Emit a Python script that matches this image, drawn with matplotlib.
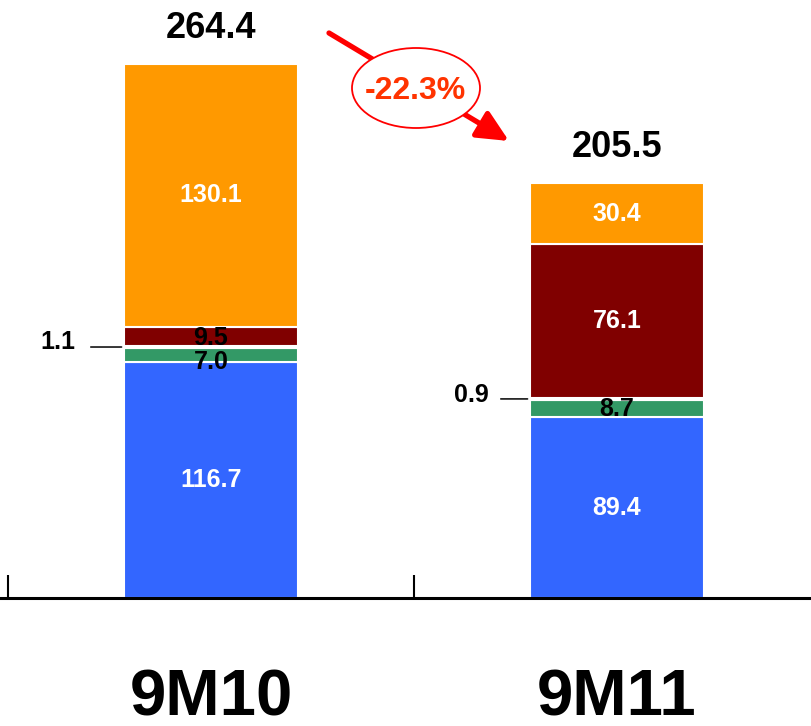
import numpy as np
import matplotlib
matplotlib.use('Agg')
import matplotlib.pyplot as plt
from matplotlib.patches import Ellipse

plt.rcParams['font.family'] = ['Liberation Sans', 'DejaVu Sans']
plt.rcParams['font.weight'] = 'bold'

# Data
periods = ['9M10', '9M11']
blue = [116.7, 89.4]
green = [7.0, 8.7]
small = [1.1, 0.9]
dark_red = [9.5, 76.1]
orange = [130.1, 30.4]
change_label = '-22.3%'

segments = [blue, green, small, dark_red, orange]
colors = ['#3366FF', '#339966', '#FFFFFF', '#800000', '#FF9900']
# label colour per segment and bar (None = labelled separately)
text_colors = [['white', 'white'], ['black', 'black'], None,
               ['black', 'white'], ['white', 'white']]
# per-segment label nudge in pixels (only the 9M10 green label is pushed down)
nudges = [[0, 0], [-7, 0], [0, 0], [-2, 0], [0, 0]]

W, H = 812, 726
fig = plt.figure(figsize=(W / 100, H / 100), dpi=100)
ax = fig.add_axes([0, 1 - 598 / H, 1, 598 / H])

x = np.arange(len(periods))
width = 0.43
bottom = np.zeros(len(periods))
for vals, col, tcol, nd in zip(segments, colors, text_colors, nudges):
    vals = np.array(vals)
    ax.bar(x, vals, width, bottom=bottom, color=col, edgecolor='white', linewidth=1.5, zorder=2)
    if tcol is not None:
        for i in range(len(x)):
            ax.annotate('%.1f' % vals[i], (x[i], bottom[i] + vals[i] / 2),
                        xytext=(0, nd[i]), textcoords='offset pixels',
                        ha='center', va='center', fontsize=18, color=tcol[i], zorder=3)
    bottom += vals

# small segment labels with leader lines
small_mid = np.array(blue) + np.array(green) + np.array(small) / 2
label_off = [(-48, 5), (-41, 4)]
line_len = [33, 29]
for i in range(len(x)):
    ax.annotate('', (x[i] - width / 2, small_mid[i]), xytext=(-line_len[i], 0),
                textcoords='offset pixels',
                arrowprops=dict(arrowstyle='-', color='black', lw=1.1,
                                shrinkA=0, shrinkB=1.5))
    ax.annotate('%.1f' % small[i], (x[i] - width / 2, small_mid[i]),
                xytext=label_off[i], textcoords='offset pixels',
                ha='right', va='center', fontsize=18, color='black')

# totals
for i in range(len(x)):
    ax.annotate('%.1f' % bottom[i], (x[i], bottom[i]), xytext=(0, 18),
                textcoords='offset pixels', ha='center', va='bottom',
                fontsize=26, color='black')

ppu = 406
ax.set_ylim(0, 598 / 2.02)
ax.set_xlim(-0.5 - 8 / ppu, -0.5 + (W - 8) / ppu)
for s in ['top', 'right', 'left']:
    ax.spines[s].set_visible(False)
ax.spines['bottom'].set_linewidth(2.2)
ax.set_yticks([])
ax.set_xticks(x)
ax.set_xticklabels(periods, fontsize=47)
ax.tick_params(axis='x', which='major', length=0, pad=51)
ax.set_xticks([-0.5, 0.5], minor=True)
ax.tick_params(axis='x', which='minor', direction='in', length=16.5, width=1.5)

# change arrow with ellipse badge
ax.annotate('', xy=(509 / W, 1 - 141 / H), xytext=(329 / W, 1 - 33 / H),
            xycoords='figure fraction', textcoords='figure fraction',
            arrowprops=dict(arrowstyle='-|>,head_length=1.9,head_width=0.9',
                            color='#FF0000', lw=3.8, shrinkA=0, shrinkB=0,
                            mutation_scale=10))
badge = Ellipse((416 / W, 1 - 88 / H), 128 / W, 80 / H, transform=fig.transFigure,
                facecolor='white', edgecolor='#FF0000', linewidth=1.3, zorder=5)
fig.add_artist(badge)
fig.text(415 / W, 1 - 91 / H, change_label, ha='center', va='center',
         fontsize=23, color='#FF3300', zorder=6)

fig.savefig('out.png', dpi=100)
